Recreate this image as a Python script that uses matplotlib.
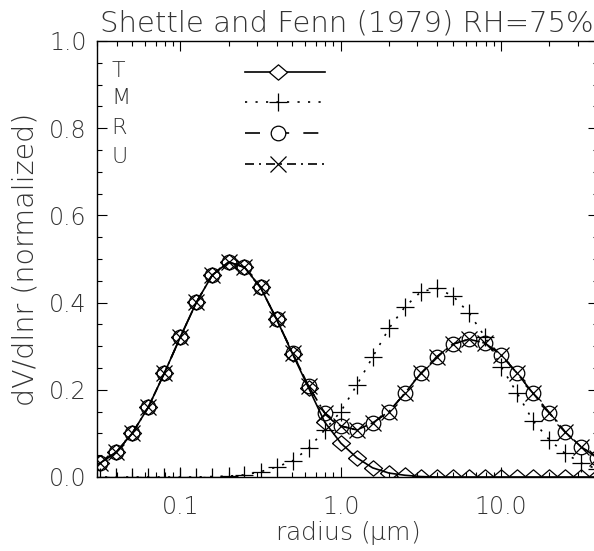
import numpy as np
import matplotlib
matplotlib.use('Agg')
import matplotlib.pyplot as plt
from matplotlib.ticker import FixedLocator, FixedFormatter, LogLocator, NullFormatter, MultipleLocator

plt.rcParams['font.family'] = ['DejaVu Sans']
plt.rcParams['font.weight'] = 'light'
plt.rcParams['axes.titleweight'] = 'light'
plt.rcParams['axes.labelweight'] = 'light'
plt.rcParams['mathtext.default'] = 'regular'

# radius grid (um), one point every 0.1 decade
radius = [0.0251, 0.0316, 0.0398, 0.0501, 0.0631, 0.0794, 0.1, 0.126, 0.158,
          0.2, 0.251, 0.316, 0.398, 0.501, 0.631, 0.794, 1.0, 1.26, 1.58,
          2.0, 2.51, 3.16, 3.98, 5.01, 6.31, 7.94, 10.0, 12.6, 15.8, 20.0,
          25.1, 31.6, 39.8]

trop = [0.017, 0.032, 0.057, 0.100, 0.160, 0.238, 0.321, 0.401, 0.463, 0.493,
        0.481, 0.435, 0.362, 0.282, 0.204, 0.126, 0.078, 0.044, 0.021, 0.009,
        0.004, 0.001, 0, 0, 0, 0, 0, 0, 0, 0, 0, 0, 0]
mari = [0, 0, 0, 0, 0, 0, 0, 0, 0.001, 0.002, 0.005, 0.012, 0.023, 0.037,
        0.066, 0.108, 0.150, 0.211, 0.275, 0.341, 0.390, 0.425, 0.433, 0.415,
        0.376, 0.321, 0.253, 0.192, 0.129, 0.085, 0.054, 0.032, 0.018]
rural = [0.017, 0.032, 0.057, 0.100, 0.160, 0.238, 0.321, 0.401, 0.463, 0.493,
         0.481, 0.435, 0.362, 0.284, 0.208, 0.147, 0.117, 0.108, 0.124, 0.150,
         0.192, 0.238, 0.276, 0.305, 0.316, 0.307, 0.280, 0.238, 0.192, 0.147,
         0.103, 0.069, 0.044]
urban = [0.017, 0.032, 0.057, 0.100, 0.160, 0.238, 0.321, 0.401, 0.463, 0.493,
         0.481, 0.435, 0.362, 0.284, 0.208, 0.147, 0.117, 0.108, 0.124, 0.150,
         0.192, 0.238, 0.276, 0.305, 0.316, 0.307, 0.280, 0.238, 0.192, 0.147,
         0.103, 0.069, 0.044]

names = ['T', 'M', 'R', 'U']
xticks = [0.1, 1.0, 10.0]
xticklabels = ['0.1', '1.0', '10.0']

diamond = [(-1, 0), (0, 0.85), (1, 0), (0, -0.85), (-1, 0)]
styles = [
    dict(ls='-', marker=diamond, ms=13),
    dict(ls=(0, (1.3, 5)), marker='+', ms=12.5),
    dict(ls=(0, (9, 8.5)), marker='o', ms=10.5),
    dict(ls=(0, (5.4, 3, 1.2, 3)), marker='x', ms=12),
]

txtcol = '#333333'

fig = plt.figure(figsize=(5.94, 5.51), dpi=100)
ax = fig.add_axes([96.5 / 594, 74 / 551, 501.2 / 594, 436 / 551])

for ys, st in zip([trop, mari, rural, urban], styles):
    ax.plot(radius, ys, color='black', lw=1.2, mfc='none', mew=0.9, **st)

ax.set_xscale('log')
ax.set_xlim(0.03, 40)
ax.set_ylim(0, 1.0)

ax.xaxis.set_major_locator(FixedLocator(xticks))
ax.xaxis.set_major_formatter(FixedFormatter(xticklabels))
ax.xaxis.set_minor_locator(LogLocator(base=10, subs=np.arange(2, 10)))
ax.xaxis.set_minor_formatter(NullFormatter())
ax.yaxis.set_major_locator(MultipleLocator(0.2))
ax.yaxis.set_minor_locator(MultipleLocator(0.05))
ax.yaxis.set_major_formatter(plt.FormatStrFormatter('%.1f'))

ax.tick_params(which='both', direction='in', top=True, right=True, width=0.8)
ax.tick_params(which='major', length=7)
ax.tick_params(which='minor', length=3.5)
ax.tick_params(axis='x', which='major', pad=13, labelsize=17, labelcolor=txtcol)
ax.tick_params(axis='y', which='major', pad=7, labelsize=17, labelcolor=txtcol)
for sp in ax.spines.values():
    sp.set_linewidth(1.0)

ax.set_title('Shettle and Fenn (1979) RH=75%', fontsize=21, pad=7, color=txtcol)
ax.set_xlabel(r'radius ($\mu$m)', fontsize=18, labelpad=0, color=txtcol)
ax.set_ylabel('dV/dlnr (normalized)', fontsize=20.5, labelpad=7, color=txtcol)

# key in the upper left corner
label_y = [0.932, 0.870, 0.800, 0.733]
line_y = [0.928, 0.859, 0.788, 0.719]
for name, ty, ly, st in zip(names, label_y, line_y, styles):
    ax.text(0.029, ty, name, transform=ax.transAxes, fontsize=16,
            va='center', ha='left', color=txtcol)
    ax.plot([0.296, 0.456], [ly, ly], transform=ax.transAxes, color='black',
            lw=1.2, ls=st['ls'])
    ax.plot([0.362], [ly], transform=ax.transAxes, color='black', ls='none',
            marker=st['marker'], ms=st['ms'], mfc='white', mew=0.9)

fig.savefig('out.png', dpi=100)
